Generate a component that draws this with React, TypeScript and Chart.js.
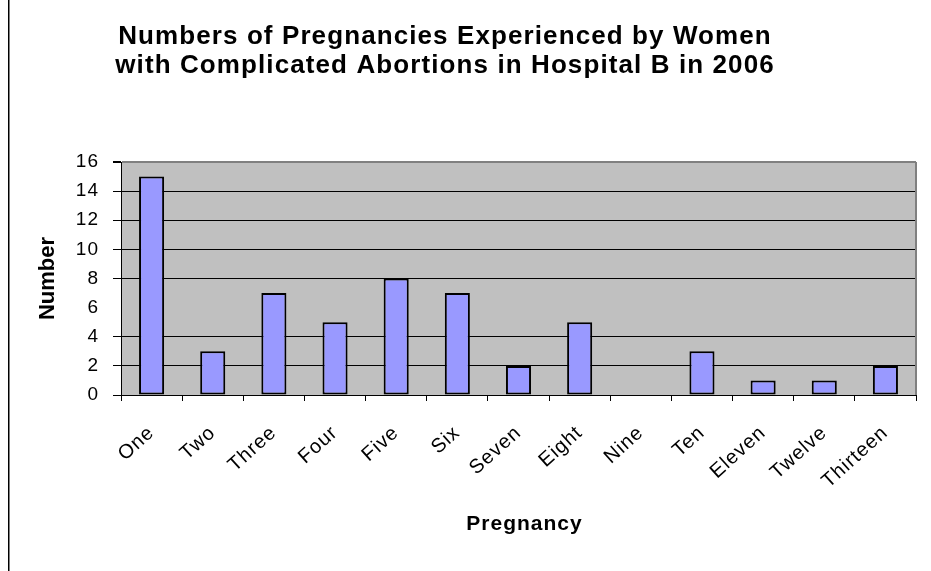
import React, { useEffect, useRef } from 'react';
import { Chart, registerables } from 'chart.js';

Chart.register(...registerables);

const categories = ['One', 'Two', 'Three', 'Four', 'Five', 'Six', 'Seven', 'Eight', 'Nine', 'Ten', 'Eleven', 'Twelve', 'Thirteen'];
const counts = [15, 3, 7, 5, 8, 7, 2, 5, 0, 3, 1, 1, 2];
const titleLines = ['Numbers of Pregnancies Experienced by Women', 'with Complicated Abortions in Hospital B in 2006'];
const xTitle = 'Pregnancy';
const yTitle = 'Number';
const yMin = 0;
const yMax = 16;
const yStep = 2;

const FONT = '"Liberation Sans", Arial, sans-serif';

const decor = {
  id: 'decor',
  beforeDraw(chart: any) {
    const { ctx, chartArea: a } = chart;
    ctx.save();
    ctx.fillStyle = '#ffffff';
    ctx.fillRect(0, 0, chart.width, chart.height);
    ctx.fillStyle = '#C0C0C0';
    ctx.fillRect(a.left, a.top, a.right - a.left, a.bottom - a.top);
    ctx.restore();
    ctx.letterSpacing = '1px';
  },
  afterDraw(chart: any) {
    const { ctx, chartArea: a } = chart;
    ctx.save();
    ctx.letterSpacing = '0px';
    ctx.strokeStyle = '#808080';
    ctx.lineWidth = 2;
    ctx.beginPath();
    ctx.moveTo(a.right, a.top);
    ctx.lineTo(a.right, a.bottom);
    ctx.stroke();
    ctx.fillStyle = '#000';
    ctx.fillRect(8, 0, 1.5, chart.height);
    ctx.textAlign = 'center';
    ctx.textBaseline = 'alphabetic';
    ctx.font = `bold 26px ${FONT}`;
    ctx.letterSpacing = '1.1px';
    ctx.fillText(titleLines[0], 445, 44);
    ctx.fillText(titleLines[1], 445, 73);
    ctx.font = `bold 21px ${FONT}`;
    ctx.letterSpacing = '1px';
    ctx.fillText(xTitle, (a.left + a.right) / 2 + 6, 530);
    ctx.translate(48, (a.top + a.bottom) / 2);
    ctx.rotate(-Math.PI / 2);
    ctx.font = `bold 22px ${FONT}`;
    ctx.letterSpacing = '0px';
    ctx.textBaseline = 'middle';
    ctx.fillText(yTitle, 0, 0);
    ctx.restore();
  },
};

export default function App() {
  const ref = useRef<HTMLCanvasElement>(null);
  useEffect(() => {
    if (!ref.current) return;
    const chart = new Chart(ref.current, {
      type: 'bar',
      data: {
        labels: categories,
        datasets: [
          {
            data: counts,
            backgroundColor: '#9999FF',
            borderColor: '#000000',
            borderWidth: 2,
            borderSkipped: false,
            barPercentage: 0.41,
            categoryPercentage: 1,
          },
        ],
      },
      options: {
        animation: false,
        responsive: false,
        layout: { padding: { top: 162, right: 15, left: 0, bottom: 0 } },
        plugins: { legend: { display: false }, tooltip: { enabled: false }, title: { display: false } },
        scales: {
          x: {
            grid: { offset: true, drawOnChartArea: false, drawTicks: true, tickLength: 6, color: '#000' },
            border: { color: '#000', width: 1 },
            ticks: {
              color: '#000',
              font: { family: FONT, size: 20 },
              minRotation: 42,
              maxRotation: 42,
              padding: 20,
              autoSkip: false,
            },
            afterFit(s: any) {
              s.height = 571 - 395;
            },
          },
          y: {
            min: yMin,
            max: yMax,
            ticks: { stepSize: yStep, color: '#000', font: { family: FONT, size: 19 }, padding: 14 },
            grid: {
              color: (c: any) => (c.tick && c.tick.value === 16 ? '#808080' : c.tick && c.tick.value === 6 ? 'rgba(0,0,0,0)' : '#000'),
              lineWidth: (c: any) => (c.tick && c.tick.value === 16 ? 2 : 1),
              tickColor: (c: any) => (c.tick && c.tick.value === 6 ? 'rgba(0,0,0,0)' : '#000'),
              tickLength: 8,
            },
            border: { color: '#000', width: 1 },
            afterFit(s: any) {
              s.width = 121;
            },
          },
        },
      },
      plugins: [decor],
    });
    return () => chart.destroy();
  }, []);
  return (
    <div style={{ position: 'absolute', left: 0, top: 0, width: 931, height: 571 }}>
      <canvas ref={ref} width={931} height={571} />
    </div>
  );
}
